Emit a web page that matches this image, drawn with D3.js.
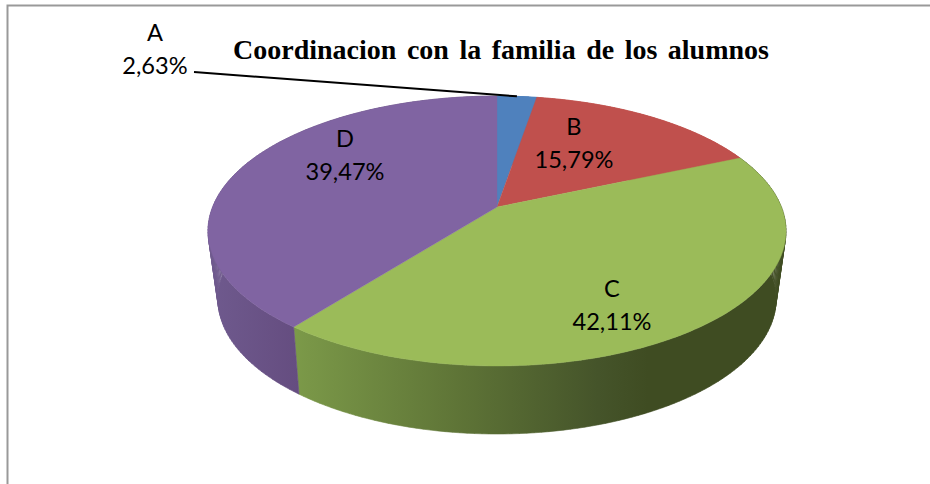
<!DOCTYPE html>
<html><head><meta charset="utf-8">
<script src="https://cdn.jsdelivr.net/npm/d3@7"></script>
<style>html,body{margin:0;padding:0;background:#fff;overflow:hidden}svg{display:block}</style>
</head><body><svg id="c" width="930" height="484"></svg>
<script>
const categories = ["A","B","C","D"];
const values = [2.63,15.79,42.11,39.47];
const valueLabels = ["2,63%","15,79%","42,11%","39,47%"];
const colors = ["#4f81bd","#c0504d","#9bbb59","#8064a2"];
const titleText = "Coordinacion con la familia de los alumnos";

// layout (not data)
const labelPos = [[155,33],[574,127],[612,289],[345,139]];
const lineGap = 33;
const sideStops = [
  [["#4f81bd",0],["#4f81bd",1]],
  [["#c0504d",0],["#c0504d",1]],
  [[ "#7c9a49",0],["#5f7537",0.33],["#45542a",0.62],["#3f4c22",0.72],["#3f4c22",1]],
  [["#6f5a8e",0],["#654d80",1]]
];

const svg = d3.select("#c");
const defs = svg.append("defs");
svg.append("path").attr("d","M7.5 484V5.5H930").attr("fill","none").attr("stroke","#999").attr("stroke-width",2);

const topPlane = {cx:497, cy:207, A:284.4, B:130.7, k:0.178};
const botPlane = {cx:497, cy:273.5, A:274, B:130, k:0.19};
const project = (p,a) => {
  const u = Math.sin(a), v = -Math.cos(a), w = 1 - p.k*v;
  return [p.cx + p.A*u/w, p.cy + p.B*v/w];
};
const pie = d3.pie().sort(null)(values);
const line = d3.line();
const samples = d => d3.range(0,121).map(i => d.startAngle + (d.endAngle-d.startAngle)*i/120);

// side walls
pie.forEach((d,i)=>{
  const as = samples(d);
  const id = "side"+i;
  const g = defs.append("linearGradient").attr("id",id).attr("gradientUnits","userSpaceOnUse")
    .attr("x1",i===3?208:292).attr("x2",i===3?298:786).attr("y1",0).attr("y2",0);
  sideStops[i].forEach(s=>g.append("stop").attr("offset",s[1]).attr("stop-color",s[0]));
  const quads = d3.pairs(as).map(([a,b])=>line([project(topPlane,a),project(topPlane,b),project(botPlane,b),project(botPlane,a)])+"Z").join("");
  svg.append("path").attr("d",quads).attr("fill",`url(#${id})`).attr("stroke",`url(#${id})`).attr("stroke-width",0.6);
});
// top face
pie.forEach((d,i)=>{
  const pts = [[topPlane.cx,topPlane.cy]].concat(samples(d).map(a=>project(topPlane,a)));
  svg.append("path").attr("d",line(pts)+"Z").attr("fill",colors[i]).attr("stroke",colors[i]).attr("stroke-width",0.4);
});
// leader
const mid = (pie[0].startAngle+pie[0].endAngle)/2;
svg.append("path").attr("d",line([[194,72],project(topPlane,mid)])).attr("stroke","#000").attr("stroke-width",2).attr("fill","none");
// labels
const font = "Lato, Carlito, sans-serif";
categories.forEach((c,i)=>{
  const t = svg.append("text").attr("text-anchor","middle").attr("font-family",font).attr("font-size",23.6).attr("fill","#000");
  t.append("tspan").attr("x",labelPos[i][0]).attr("y",labelPos[i][1]+8).text(c);
  t.append("tspan").attr("x",labelPos[i][0]).attr("y",labelPos[i][1]+8+lineGap).text(valueLabels[i]);
});
svg.append("text").attr("x",501).attr("y",59).attr("text-anchor","middle")
  .attr("font-family","'Liberation Serif',serif").attr("font-weight","bold").attr("font-size",28)
  .attr("word-spacing",3.5).attr("fill","#000").text(titleText);
</script></body></html>
